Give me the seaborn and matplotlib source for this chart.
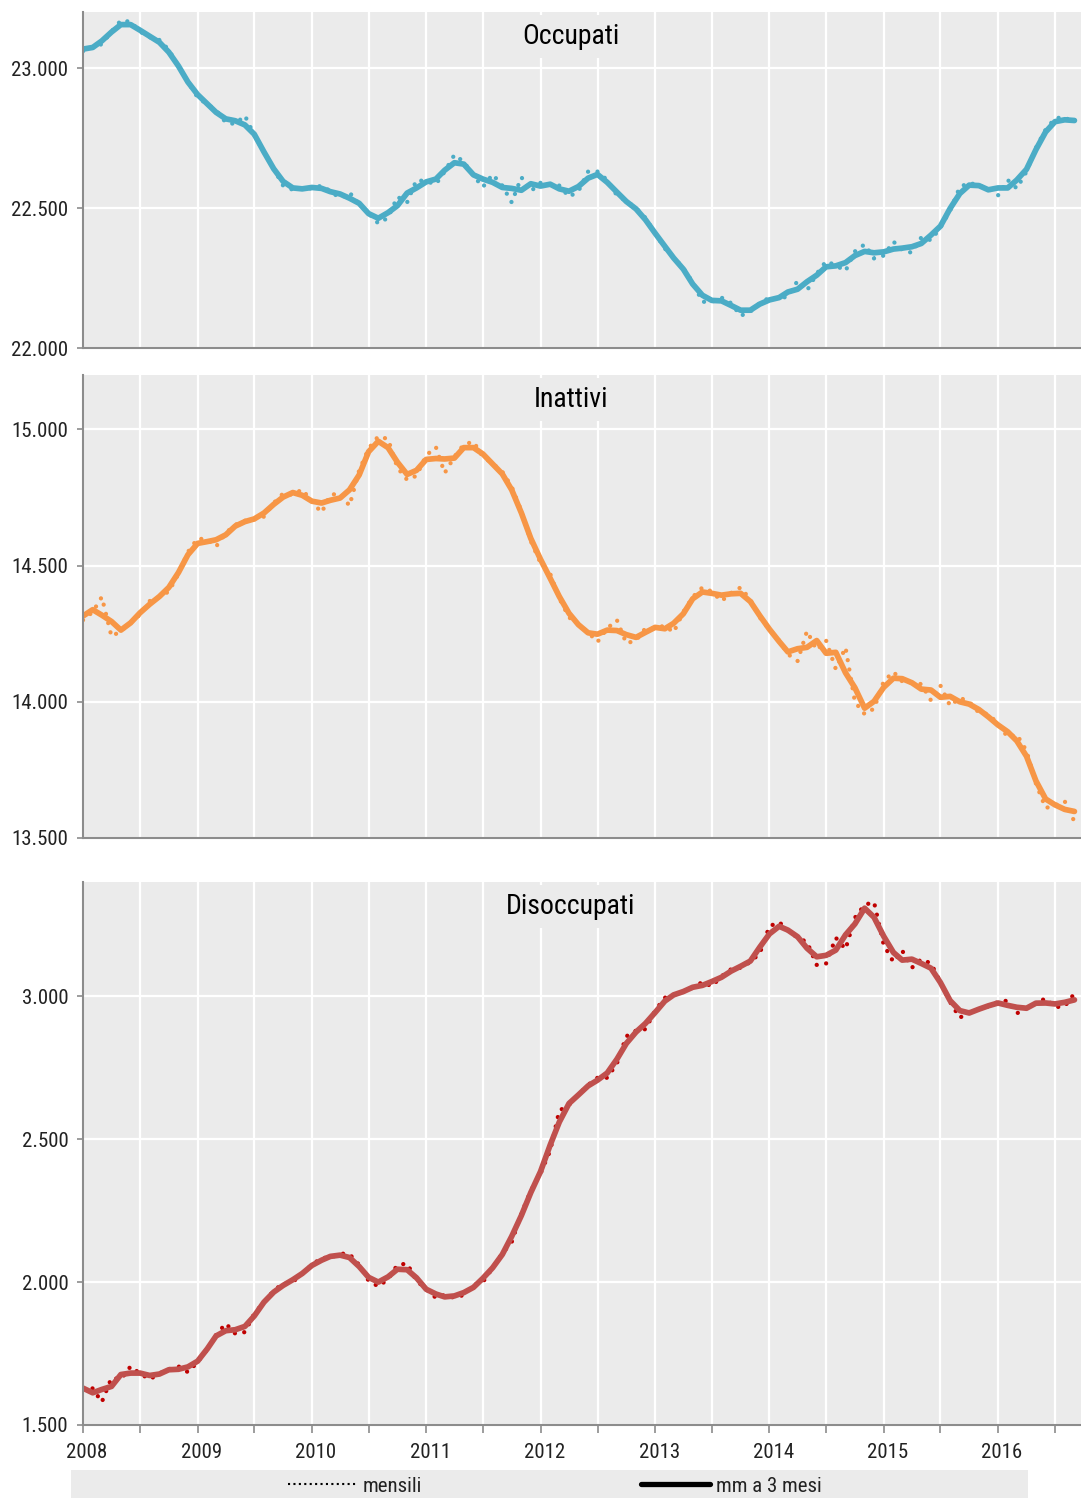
import matplotlib
matplotlib.use('Agg')
import matplotlib.pyplot as plt
import matplotlib.transforms as mtransforms
from matplotlib import font_manager
from matplotlib.lines import Line2D
from matplotlib.patches import Rectangle
from matplotlib.ticker import FuncFormatter
import pandas as pd
import seaborn as sns

# monthly data, Jan 2008 - Sep 2016 (thousands)
months = pd.date_range('2008-01-01', periods=105, freq='MS')

occupati = [
    23060, 23075, 23085, 23130, 23170, 23165, 23130, 23110, 23100, 23065,
    23005, 22950, 22895, 22870, 22850, 22805, 22800, 22830, 22760, 22700,
    22640, 22580, 22565, 22570, 22570, 22580, 22560, 22535, 22555, 22515,
    22480, 22445, 22465, 22540, 22520, 22600, 22595, 22585, 22630, 22690,
    22665, 22615, 22575, 22620, 22580, 22520, 22610, 22560, 22590, 22585,
    22580, 22540, 22560, 22630, 22630, 22600, 22545, 22525, 22500, 22465,
    22410, 22355, 22325, 22285, 22235, 22165, 22165, 22180, 22160, 22115,
    22130, 22160, 22180, 22175, 22185, 22240, 22205, 22265, 22310, 22295,
    22275, 22345, 22370, 22320, 22330, 22380, 22350, 22340, 22395, 22385,
    22430, 22490, 22575, 22590, 22580, 22570, 22545, 22600, 22570, 22630,
    22715, 22780, 22820, 22825, 22800,
]

inattivi = [
    14300, 14330, 14385, 14240, 14260, 14290, 14320, 14370, 14385, 14405,
    14470, 14550, 14600, 14595, 14570, 14620, 14650, 14665, 14670, 14680,
    14730, 14765, 14760, 14780, 14735, 14695, 14760, 14765, 14720, 14850,
    14930, 14975, 14965, 14860, 14815, 14830, 14905, 14935, 14840, 14900,
    14945, 14955, 14900, 14875, 14845, 14790, 14700, 14590, 14510, 14470,
    14380, 14310, 14285, 14255, 14220, 14270, 14300, 14215, 14225, 14270,
    14270, 14280, 14255, 14330, 14385, 14420, 14405, 14370, 14400, 14420,
    14375, 14310, 14265, 14225, 14175, 14150, 14260, 14190, 14225, 14120,
    14200, 14000, 13955, 13975, 14075, 14110, 14075, 14070, 14065, 14005,
    14060, 13985, 14015, 14000, 13960, 13955, 13920, 13870, 13880, 13820,
    13700, 13610, 13620, 13635, 13560,
]

disoccupati = [
    1630, 1628, 1580, 1665, 1660, 1705, 1680, 1660, 1680, 1695,
    1705, 1685, 1720, 1765, 1815, 1855, 1820, 1825, 1890, 1930,
    1970, 1995, 2000, 2030, 2060, 2085, 2085, 2100, 2098, 2060,
    2005, 1985, 2010, 2060, 2065, 2005, 1975, 1945, 1955, 1945,
    1955, 1990, 2000, 2050, 2100, 2140, 2240, 2320, 2380, 2460,
    2600, 2620, 2655, 2690, 2715, 2715, 2765, 2860, 2880, 2885,
    2950, 2995, 3005, 3015, 3030, 3050, 3035, 3070, 3095, 3100,
    3120, 3150, 3245, 3260, 3230, 3205, 3190, 3110, 3115, 3205,
    3165, 3275, 3320, 3330, 3180, 3120, 3160, 3100, 3130, 3115,
    3050, 2980, 2925, 2945, 2955, 2965, 2980, 2985, 2940, 2960,
    2975, 2993, 2962, 2965, 3010,
]

titles = ['Occupati', 'Inattivi', 'Disoccupati']
y_ticks = [[22000, 22500, 23000], [13500, 14000, 14500, 15000], [1500, 2000, 2500, 3000]]
y_limits = [(22000, 23200), (13500, 15200), (1500, 3400)]
legend_labels = ['mensili', 'mm a 3 mesi']

line_colors = ['#4BACC6', '#F79646', '#C0504D']
dot_colors = ['#4BACC6', '#F79646', '#C00000']
bg = '#EBEBEB'
spine_col = '#8C8C8C'

sns.set_theme(style='darkgrid', rc={'axes.facecolor': bg, 'grid.color': 'white',
                                    'grid.linewidth': 1.6})
# a narrow face looks closest to the original; use one if there is any
installed = sorted({f.name for f in font_manager.fontManager.ttflist})
narrow = [f for f in ['Liberation Sans Narrow', 'Arial Narrow', 'Roboto Condensed',
                      'Open Sans Condensed', 'Noto Sans Condensed'] if f in installed]
narrow += [f for f in installed if ('Narrow' in f or 'Condensed' in f) and f not in narrow]
plt.rcParams['font.family'] = narrow[:1] + ['DejaVu Sans']
if narrow:
    fs_tick, fs_title = 15, 20
else:
    plt.rcParams['font.stretch'] = 'condensed'
    fs_tick, fs_title = 13, 19

W, H = 1081, 1498
fig = plt.figure(figsize=(W / 100, H / 100), dpi=100)
panels = [(12, 348), (375, 838), (882, 1425)]
half_years = pd.date_range('2008-01-01', '2016-07-01', freq='6MS')
year_labels = [str(d.year) if d.month == 1 else '' for d in half_years]
it_fmt = FuncFormatter(lambda v, p: f'{v:,.0f}'.replace(',', '.'))

series = [occupati, inattivi, disoccupati]
for i, (top, bottom) in enumerate(panels):
    ax = fig.add_axes([83 / W, 1 - bottom / H, 1 - 83 / W, (bottom - top) / H])
    df = pd.DataFrame({'mese': months, 'valore': series[i]})
    df['mm3'] = df['valore'].rolling(3, center=True, min_periods=1).mean()

    sns.lineplot(data=df, x='mese', y='valore', ax=ax, color=dot_colors[i],
                 linewidth=3.1, linestyle=(0, (0.01, 2.2)), dash_capstyle='round')
    sns.lineplot(data=df, x='mese', y='mm3', ax=ax, color=line_colors[i],
                 linewidth=4.1, solid_capstyle='round', solid_joinstyle='round')

    ax.set_xlim(pd.Timestamp('2008-01-01'), pd.Timestamp('2016-09-22'))
    ax.set_ylim(*y_limits[i])
    ax.set_yticks(y_ticks[i])
    ax.yaxis.set_major_formatter(it_fmt)
    ax.set_xticks(half_years)
    ax.set_xlabel('')
    ax.set_ylabel('')
    ax.set_axisbelow(True)
    ax.grid(True, color='white', linewidth=1.6)

    for side in ['top', 'right']:
        ax.spines[side].set_visible(False)
    for side in ['left', 'bottom']:
        ax.spines[side].set_visible(True)
        ax.spines[side].set_color(spine_col)
        ax.spines[side].set_linewidth(1.5)

    ax.tick_params(axis='y', length=4.5, width=1.2, color=spine_col, pad=6,
                   labelsize=fs_tick, labelcolor='#222222', left=True)
    if i == 2:
        ax.set_xticklabels(year_labels)
        ax.tick_params(axis='x', length=6, width=1.2, color=spine_col, pad=7,
                       labelsize=fs_tick, labelcolor='#222222', bottom=True)
        shift = mtransforms.ScaledTranslation(4 / 100, 0, fig.dpi_scale_trans)
        for lab in ax.get_xticklabels():
            lab.set_transform(lab.get_transform() + shift)
    else:
        ax.set_xticklabels([])
        ax.tick_params(axis='x', length=0)

    title_y = 1 - 24.5 / (bottom - top)
    ax.text((571 - 83) / (W - 83), title_y, titles[i], transform=ax.transAxes,
            ha='center', va='center', fontsize=fs_title, color='black', clip_on=True,
            bbox=dict(boxstyle='square,pad=0.3', fc=bg, ec='none'), zorder=5)

# legend band
fig.add_artist(Rectangle((71 / W, 0), (1028 - 71) / W, 28 / H, transform=fig.transFigure,
                         facecolor=bg, edgecolor='none', zorder=0))
handles = [Line2D([], [], color='black', linewidth=1.5, linestyle=(0, (1, 1.6))),
           Line2D([], [], color='black', linewidth=3.8, solid_capstyle='round')]
unit = fs_tick * 100 / 72
fig.legend(handles, legend_labels, loc='center', bbox_to_anchor=(555 / W, 1 - 1486 / H),
           ncol=2, frameon=False, fontsize=fs_tick, handlelength=69 / unit,
           columnspacing=219 / unit, handletextpad=6 / unit, labelcolor='#222222')

fig.savefig('out.png', dpi=100)
